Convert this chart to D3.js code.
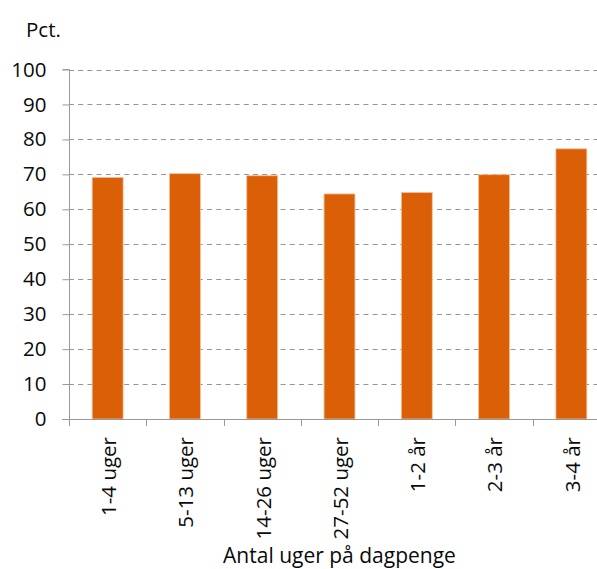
<!DOCTYPE html>
<html>
<head>
<meta charset="utf-8">
<script src="https://cdn.jsdelivr.net/npm/d3@7"></script>
<style>
  html, body { margin: 0; padding: 0; background: #fff; overflow: hidden; }
  svg { display: block; font-family: "Open Sans", "Noto Sans", sans-serif; }
</style>
</head>
<body>
<svg id="chart" width="597" height="569"></svg>
<script>
// Share (pct.) by length of time on unemployment benefit
const categories = ["1-4 uger", "5-13 uger", "14-26 uger", "27-52 uger", "1-2 år", "2-3 år", "3-4 år"];
const values = [69.1, 70.2, 69.6, 64.4, 64.8, 69.9, 77.3];
const yTicks = [0, 10, 20, 30, 40, 50, 60, 70, 80, 90, 100];
const yUnit = "Pct.";
const xTitle = "Antal uger på dagpenge";

const svg = d3.select("#chart");
const plotLeft = 69, plotRight = 610, plotTop = 69.5, plotBottom = 419;
const fontSize = 20.5;
const textColor = "#0a0a0a";

const x = d3.scaleBand().domain(categories).range([plotLeft, plotRight]).paddingInner(0.6).paddingOuter(0.3);
const xEdge = d3.scaleLinear().domain([0, categories.length]).range([plotLeft, plotRight]);
const y = d3.scaleLinear().domain([0, 100]).range([plotBottom, plotTop]);

// dashed horizontal gridlines
svg.append("g").selectAll("line").data(yTicks.filter(d => d > 0)).join("line")
  .attr("x1", plotLeft).attr("x2", 597)
  .attr("y1", d => Math.round(y(d)) + 0.5).attr("y2", d => Math.round(y(d)) + 0.5)
  .attr("stroke", "#959595").attr("stroke-width", 1.2).attr("stroke-dasharray", "5,4.2");

// bars
svg.append("g").selectAll("rect").data(values).join("rect")
  .attr("x", (d, i) => x(categories[i]))
  .attr("width", x.bandwidth())
  .attr("y", d => y(d))
  .attr("height", d => y(0) - y(d))
  .attr("fill", "#db5f07")
  .attr("stroke", "#f3c09a").attr("stroke-width", 0.8);

// y axis
const yAxis = d3.axisLeft(y).tickValues(yTicks).tickSize(7).tickPadding(16).tickFormat(d3.format("d"));
const gy = svg.append("g").attr("transform", `translate(${plotLeft + 0.5},0)`).call(yAxis);
gy.select(".domain").attr("stroke", "#999").attr("d", `M-7,${y(100)}H0V${y(0)}`);
gy.selectAll(".tick line").attr("stroke", "#999");
gy.selectAll(".tick text").attr("font-size", fontSize).attr("fill", textColor)
  .attr("font-family", "'Open Sans', sans-serif");

// x axis baseline with ticks at category boundaries
const gx = svg.append("g");
gx.append("line").attr("x1", plotLeft - 7).attr("x2", 597)
  .attr("y1", Math.round(plotBottom) + 0.5).attr("y2", Math.round(plotBottom) + 0.5)
  .attr("stroke", "#999");
gx.selectAll("line.tk").data(d3.range(categories.length + 1)).join("line").attr("class", "tk")
  .attr("x1", d => Math.round(xEdge(d)) + 0.5).attr("x2", d => Math.round(xEdge(d)) + 0.5)
  .attr("y1", plotBottom).attr("y2", plotBottom + 7)
  .attr("stroke", "#999");

// rotated category labels
gx.selectAll("text").data(categories).join("text")
  .attr("transform", d => `translate(${x(d) + x.bandwidth() / 2 + 8.3},437) rotate(-90)`)
  .attr("text-anchor", "end")
  .attr("font-size", fontSize).attr("fill", textColor)
  .text(d => d);

// unit label and axis title
svg.append("text").attr("x", 26).attr("y", 37).attr("font-size", fontSize).attr("fill", textColor).text(yUnit);
svg.append("text").attr("x", (plotLeft + plotRight) / 2).attr("y", 563).attr("text-anchor", "middle")
  .attr("font-size", 21).attr("fill", textColor).text(xTitle);
</script>
</body>
</html>
